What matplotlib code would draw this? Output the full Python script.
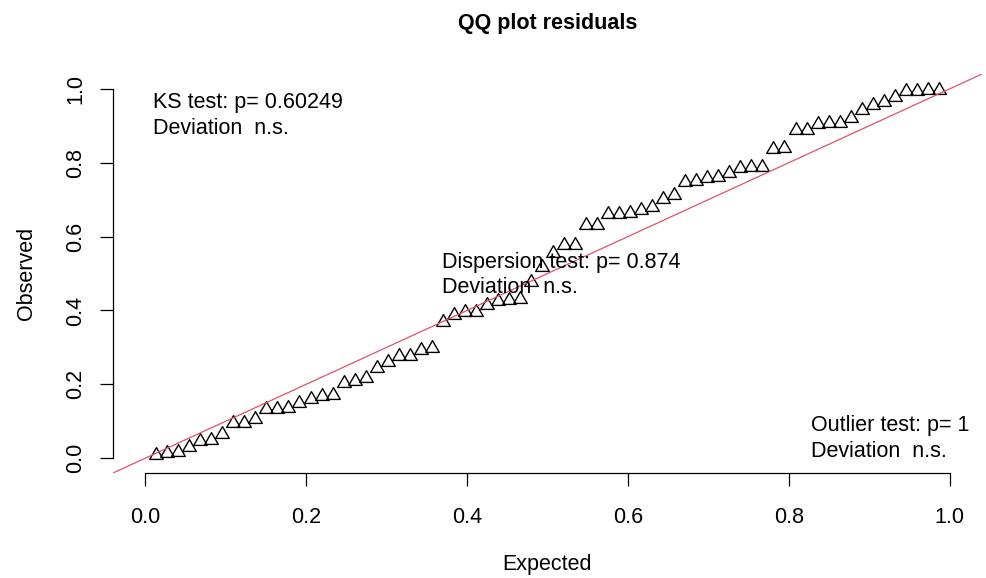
from matplotlib import pyplot as plt
from matplotlib.path import Path
import numpy as np

# sorted scaled residuals (observed quantiles)
observed = [0.008, 0.014, 0.016, 0.030, 0.046, 0.048, 0.066, 0.095, 0.095, 0.107,
            0.132, 0.133, 0.136, 0.150, 0.160, 0.168, 0.172, 0.204, 0.210, 0.217,
            0.244, 0.260, 0.276, 0.276, 0.292, 0.297, 0.369, 0.387, 0.396, 0.396,
            0.416, 0.425, 0.428, 0.430, 0.478, 0.518, 0.556, 0.577, 0.577, 0.631,
            0.631, 0.660, 0.662, 0.664, 0.672, 0.681, 0.703, 0.712, 0.748, 0.750,
            0.759, 0.760, 0.771, 0.786, 0.788, 0.789, 0.838, 0.841, 0.889, 0.889,
            0.904, 0.908, 0.908, 0.922, 0.943, 0.956, 0.963, 0.979, 0.994, 0.994,
            0.997, 0.998]
# expected uniform quantiles, i/(n+1)
n_obs = len(observed)
expected = np.arange(1, n_obs + 1) / (n_obs + 1)

ticks = [0.0, 0.2, 0.4, 0.6, 0.8, 1.0]
tick_labels = ["0.0", "0.2", "0.4", "0.6", "0.8", "1.0"]

ks_text = ["KS test: p= 0.60249", "Deviation  n.s."]
disp_text = ["Dispersion test: p= 0.874", "Deviation  n.s."]
out_text = ["Outlier test: p= 1", "Deviation  n.s."]


def main():
    plt.rcParams["font.family"] = ["Liberation Sans", "DejaVu Sans"]
    fs = 15.5
    W, H = 986, 578
    fig = plt.figure(figsize=(W / 100, H / 100), dpi=100)
    # plot region in pixels: x 113..982, y 74..473
    ax = fig.add_axes([113 / W, 1 - 473 / H, 869 / W, 399 / H])
    ax.set_xlim(-0.04, 1.04)
    ax.set_ylim(-0.04, 1.04)

    # R style open triangle (pch = 2), centred on circumcentre
    tri = Path([(0, 1), (0.866, -0.5), (-0.866, -0.5), (0, 1)],
               [Path.MOVETO, Path.LINETO, Path.LINETO, Path.CLOSEPOLY])
    ax.plot(expected, observed, linestyle="none", marker=tri, markersize=11.3,
            markerfacecolor="none", markeredgecolor="black", markeredgewidth=1.0)
    ax.axline((0, 0), slope=1, color="#DF536B", linewidth=0.9)

    for side in ["top", "right"]:
        ax.spines[side].set_visible(False)
    for side in ["left", "bottom"]:
        ax.spines[side].set_bounds(0, 1)
        ax.spines[side].set_linewidth(0.9)
    ax.set_xticks(ticks)
    ax.set_xticklabels(tick_labels)
    ax.set_yticks(ticks)
    ax.set_yticklabels(tick_labels, rotation=90, va="center")
    ax.tick_params(axis="both", direction="out", length=9.4, width=0.9,
                   labelsize=fs)
    ax.tick_params(axis="x", pad=15)
    ax.tick_params(axis="y", pad=10)

    ax.text(0.01, 0.9485, ks_text[0], fontsize=fs, va="baseline")
    ax.text(0.01, 0.878, ks_text[1], fontsize=fs, va="baseline")
    ax.text(0.3686, 0.514, disp_text[0], fontsize=fs, va="baseline")
    ax.text(0.3686, 0.446, disp_text[1], fontsize=fs, va="baseline")
    ax.text(0.827, 0.073, out_text[0], fontsize=fs, va="baseline")
    ax.text(0.827, 0.0035, out_text[1], fontsize=fs, va="baseline")

    fig.text(547.5 / W, 1 - 29 / H, "QQ plot residuals", fontsize=fs,
             fontweight="bold", ha="center", va="baseline")
    fig.text(547.5 / W, 1 - 570 / H, "Expected", fontsize=fs,
             ha="center", va="baseline")
    fig.text(31.7 / W, 1 - 273.5 / H, "Observed", fontsize=fs, rotation=90,
             rotation_mode="anchor", ha="center", va="baseline")

    fig.savefig("out.png", dpi=100)


if __name__ == "__main__":
    main()
